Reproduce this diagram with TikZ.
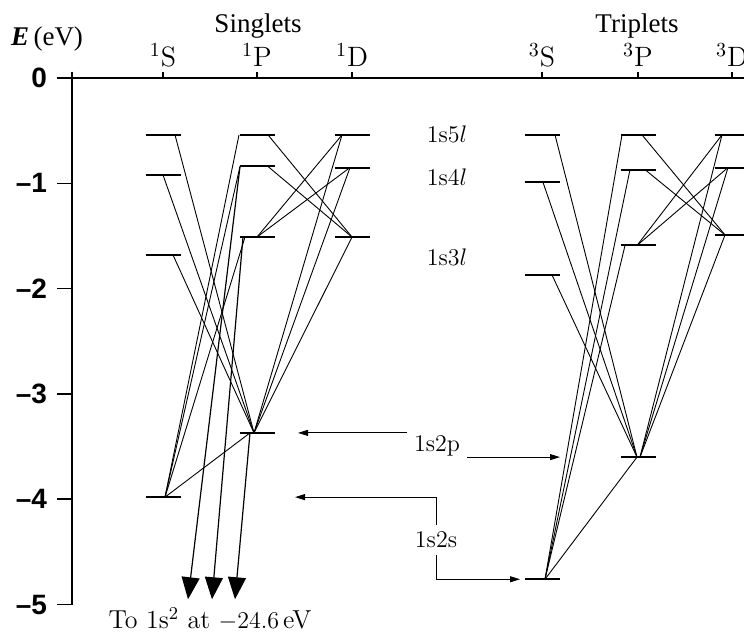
\documentclass[tikz,border=0pt]{standalone}
\usepackage{fontspec}
\usepackage{tikz}
\usetikzlibrary{arrows.meta}
\newfontfamily\headfont{Liberation Serif}
\newfontfamily\tickfont{Liberation Sans}

\begin{document}
\begin{tikzpicture}[
    x=0.5pt, y=52.65pt,
    level/.style={line width=1pt},
    trans/.style={line width=0.45pt},
    axisline/.style={line width=0.8pt},
    ground/.style={-{Triangle[width=9pt,length=11pt]}, line width=0.6pt},
    ptr/.style={-{Triangle[width=3pt,length=5pt]}, line width=0.45pt},
    ticklabel/.style={anchor=east, font=\tickfont\bfseries\fontsize{14}{16}\selectfont},
    term/.style={anchor=base, font=\fontsize{14}{16}\selectfont},
    head/.style={anchor=base, font=\headfont\fontsize{13.5}{16}\selectfont},
    config/.style={font=\fontsize{12}{14}\selectfont}
]
    \useasboundingbox (0,0.741) rectangle (744,-5.328);
    \clip (0,0.741) rectangle (744,-5.328);

    % Energy axis
    \draw[axisline] (72,0.06) -- (72,-5);
    \draw[axisline] (57,0) -- (744,0);
    \node[ticklabel] (e0) at (54,0) {0};
    \foreach \e in {1,...,5} {
        \draw[axisline] (57,-\e) -- (72,-\e);
        \node[ticklabel] (e\e) at (54,-\e) {–\e};
    }
    \node[head] (eunit) at (47,0.31) {{\bfseries\itshape E}\,(eV)};

    % Column heads
    \node[head] (singlets) at (258,0.43) {Singlets};
    \node[head] (triplets) at (637,0.43) {Triplets};
    \foreach \x/\m/\L in {163/1/S,257/1/P,352/1/D,542/3/S,638/3/P,732/3/D} {
        \draw[axisline] (\x,0) -- (\x,0.057);
        \node[term] (col\m\L) at (\x,0.105) {$^{\m}$\L};
    }

    % Levels
    \foreach \n/\x/\y in {sS5/163/-0.54, sS4/163/-0.92, sS3/163/-1.68, sS2/163/-3.98,
        sP5/257/-0.54, sP4/257/-0.84, sP3/257/-1.51, sP2/257/-3.37,
        sD5/352/-0.54, sD4/352/-0.85, sD3/352/-1.51,
        tS5/542/-0.54, tS4/542/-0.99, tS3/542/-1.87, tS2/542/-4.76,
        tP5/638/-0.54, tP4/638/-0.87, tP3/638/-1.59, tP2/638/-3.60,
        tD5/732/-0.54, tD4/732/-0.85, tD3/732/-1.49} {
        \coordinate (\n) at (\x,\y);
        \draw[level] (\n) +(-17.5,0) -- +(17.5,0);
    }

    % Configuration labels
    \node[config] (c5) at (447,-0.54) {1s5$l$};
    \node[config] (c4) at (447,-0.94) {1s4$l$};
    \node[config] (c3) at (447,-1.70) {1s3$l$};
    \node[config, anchor=base] (c2p) at (437,-3.55) {1s2p};
    \node[config, anchor=base] (c2s) at (436,-4.46) {1s2s};
    \node[config, anchor=base, font=\fontsize{13}{15}\selectfont] (gnd) at (210,-5.223)
        {To 1s$^2$ at $-24.6\,$eV};

    % Singlet transitions
    \draw[trans] ([xshift=6pt]sS5) -- ([xshift=-1.5pt]sP2);
    \draw[trans] ([xshift=0pt]sS4) -- ([xshift=-1.5pt]sP2);
    \draw[trans] ([xshift=5pt]sS3) -- ([xshift=-1.5pt]sP2);
    \draw[trans] ([xshift=-9pt]sP5) -- ([xshift=1pt]sS2);
    \draw[trans] ([xshift=-8.5pt]sP4) -- ([xshift=1pt]sS2);
    \draw[trans] ([xshift=-6pt]sP3) -- ([xshift=1pt]sS2);
    \draw[trans] ([xshift=-3.5pt]sP2) -- ([xshift=1pt]sS2);
    \draw[trans] ([xshift=5.5pt]sP5) -- (sD3);
    \draw[trans] ([xshift=5.5pt]sP4) -- (sD3);
    \draw[trans] ([xshift=-5pt]sD5) -- (sP3);
    \draw[trans] ([xshift=-1pt]sD4) -- (sP3);
    \draw[trans] ([xshift=-5pt]sD5) -- ([xshift=-1.5pt]sP2);
    \draw[trans] ([xshift=-1pt]sD4) -- ([xshift=-1.5pt]sP2);
    \draw[trans] (sD3) -- ([xshift=-1.5pt]sP2);

    % Decays to the ground state
    \coordinate (g4) at (188,-4.95);
    \coordinate (g3) at (212,-4.95);
    \coordinate (g2) at (235,-4.95);
    \draw[ground] ([xshift=-8.5pt]sP4) -- (g4);
    \draw[ground] ([xshift=-7pt]sP3) -- (g3);
    \draw[ground] ([xshift=-3.5pt]sP2) -- (g2);

    % Triplet transitions
    \draw[trans] ([xshift=6.5pt]tS5) -- ([xshift=-0.5pt]tP2);
    \draw[trans] ([xshift=0.5pt]tS4) -- ([xshift=-0.5pt]tP2);
    \draw[trans] ([xshift=5pt]tS3) -- ([xshift=-0.5pt]tP2);
    \draw[trans] ([xshift=-8pt]tP5) -- ([xshift=1.5pt]tS2);
    \draw[trans] ([xshift=-4pt]tP4) -- ([xshift=1.5pt]tS2);
    \draw[trans] ([xshift=-6.5pt]tP3) -- ([xshift=1.5pt]tS2);
    \draw[trans] ([xshift=-0.5pt]tP2) -- ([xshift=1.5pt]tS2);
    \draw[trans] ([xshift=2pt]tP5) -- ([xshift=-3.5pt]tD3);
    \draw[trans] ([xshift=3.5pt]tP4) -- ([xshift=-3.5pt]tD3);
    \draw[trans] ([xshift=-5pt]tD5) -- ([xshift=-0.5pt]tP3);
    \draw[trans] ([xshift=-2pt]tD4) -- ([xshift=-0.5pt]tP3);
    \draw[trans] ([xshift=-5pt]tD5) -- ([xshift=1pt]tP2);
    \draw[trans] ([xshift=-2pt]tD4) -- ([xshift=1pt]tP2);
    \draw[trans] ([xshift=-3.5pt]tD3) -- ([xshift=1pt]tP2);

    % Pointers from the 1s2l labels
    \coordinate (p2left) at (298,-3.37);
    \coordinate (p2right) at (560,-3.60);
    \coordinate (s2left) at (295,-3.98);
    \coordinate (s2right) at (520,-4.76);
    \draw[ptr] (c2p.west |- sP2) -- (p2left);
    \draw[ptr] (c2p.east |- tP2) -- (p2right);
    \draw[ptr] (c2s.north) |- (s2left);
    \draw[ptr] (c2s.south) |- (s2right);
\end{tikzpicture}
\end{document}
